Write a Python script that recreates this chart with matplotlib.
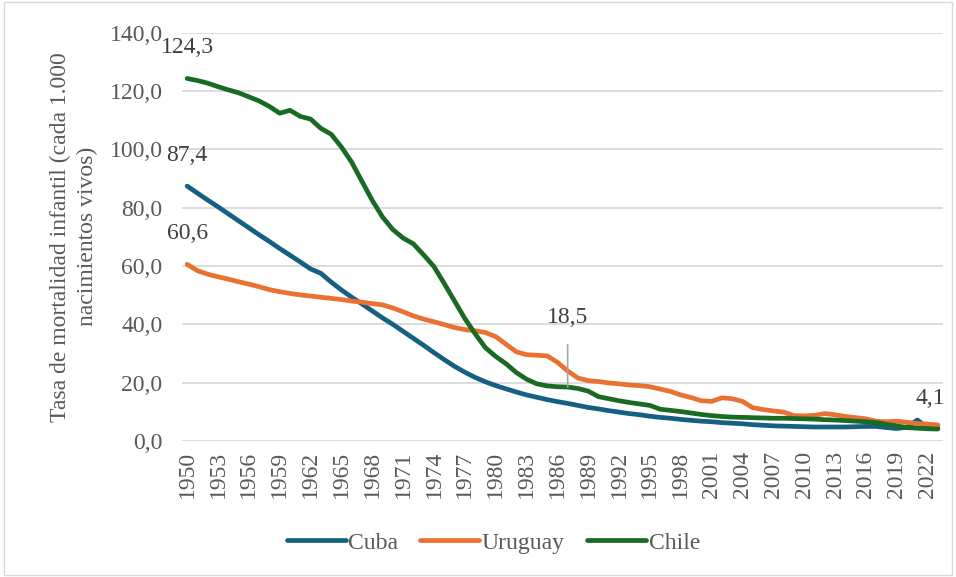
import matplotlib
matplotlib.use("Agg")
import matplotlib.pyplot as plt
from matplotlib.ticker import FuncFormatter
from matplotlib.patches import Rectangle

years = list(range(1950, 2024))

cuba = [87.4, 85.0, 82.6, 80.3, 77.9, 75.5, 73.1, 70.7, 68.4, 66.0,
        63.7, 61.4, 59.0, 57.5, 54.5, 51.8, 49.3, 47.0, 44.6, 42.2,
        40.0, 37.6, 35.2, 32.8, 30.3, 27.9, 25.6, 23.6, 21.8, 20.3,
        19.0, 17.9, 16.8, 15.8, 15.0, 14.2, 13.5, 12.9, 12.2, 11.5,
        11.0, 10.4, 9.9, 9.4, 9.0, 8.5, 8.1, 7.8, 7.4, 7.1,
        6.8, 6.6, 6.3, 6.1, 5.9, 5.6, 5.4, 5.2, 5.1, 5.0,
        4.9, 4.8, 4.8, 4.8, 4.8, 4.9, 5.0, 5.0, 4.6, 4.3,
        4.7, 7.2, 4.6, 4.6]

uruguay = [60.6, 58.4, 57.2, 56.3, 55.5, 54.6, 53.8, 52.9, 51.9, 51.2,
           50.6, 50.1, 49.7, 49.3, 48.9, 48.5, 48.0, 47.6, 47.1, 46.7,
           45.6, 44.3, 42.9, 41.8, 40.9, 39.9, 38.9, 38.2, 37.8, 37.2,
           35.8, 33.2, 30.6, 29.6, 29.4, 29.2, 27.0, 24.0, 21.6, 20.7,
           20.4, 19.9, 19.6, 19.2, 19.0, 18.6, 17.8, 17.0, 15.8, 14.9,
           13.8, 13.6, 14.8, 14.5, 13.6, 11.4, 10.8, 10.3, 9.9, 8.7,
           8.6, 8.8, 9.4, 9.0, 8.4, 8.0, 7.6, 6.8, 6.6, 6.8,
           6.4, 6.0, 5.8, 5.5]

chile = [124.3, 123.6, 122.7, 121.5, 120.4, 119.4, 118.0, 116.6, 114.7, 112.4,
         113.4, 111.3, 110.4, 107.2, 105.2, 100.8, 95.6, 89.0, 82.5, 76.8,
         72.5, 69.6, 67.6, 63.8, 59.8, 54.0, 48.0, 42.0, 36.8, 32.0,
         29.0, 26.5, 23.5, 21.2, 19.6, 18.9, 18.6, 18.5, 18.0, 17.1,
         15.2, 14.5, 13.8, 13.2, 12.7, 12.2, 10.9, 10.5, 10.1, 9.6,
         9.1, 8.7, 8.4, 8.2, 8.1, 8.0, 7.9, 7.8, 7.8, 7.7,
         7.6, 7.5, 7.3, 7.2, 7.0, 6.8, 6.6, 6.3, 5.7, 5.2,
         4.6, 4.4, 4.2, 4.1]

series_names = ["Cuba", "Uruguay", "Chile"]
series_colors = ["#156082", "#E97132", "#196B24"]

plt.rcParams['font.family'] = ['Liberation Serif', 'DejaVu Serif']
text_color = "#595959"
fs = 17

fig = plt.figure(figsize=(9.56, 5.77), dpi=100)
fig.patches.append(Rectangle((0.004, 0.004), 0.992, 0.992, transform=fig.transFigure,
                             fill=False, edgecolor="#D9D9D9", linewidth=1.0))
ax = fig.add_axes([0.1904, 0.2357, 0.796, 0.7076])

for name, vals, col in zip(series_names, [cuba, uruguay, chile], series_colors):
    ax.plot(years, vals, color=col, linewidth=3.4, label=name,
            solid_capstyle='round', solid_joinstyle='round', zorder=3)

ax.set_ylim(0, 140)
ax.set_xlim(1949.5, 2023.5)
ax.set_yticks(range(0, 141, 20))
ax.yaxis.set_major_formatter(FuncFormatter(lambda v, p: f"{v:.1f}".replace('.', ',')))
ax.set_xticks(years[::3])
ax.set_xticklabels([str(y) for y in years[::3]], rotation=90)
ax.tick_params(axis='both', length=0, labelsize=fs, labelcolor=text_color)
ax.tick_params(axis='y', pad=14)
ax.tick_params(axis='x', pad=7)
ax.grid(axis='y', color="#D9D9D9", linewidth=1.3, zorder=0)
ax.set_axisbelow(True)
for s in ax.spines.values():
    s.set_visible(False)

ax.set_ylabel("Tasa de mortalidad infantil (cada 1.000\nnacimientos vivos)",
              fontsize=fs, color=text_color, linespacing=1.35)
ax.yaxis.set_label_coords(-0.11, 0.5)

def lab(x, y, txt, dy=22):
    ax.annotate(txt, (x, y), xytext=(0, dy), textcoords='offset points',
                ha='center', va='center', fontsize=fs, color="#404040")

lab(years[0], chile[0], "124,3")
lab(years[0], cuba[0], "87,4")
lab(years[0], uruguay[0], "60,6")
lab(years[-1] - 0.7, chile[-1], "4,1")
ax.annotate("18,5", (years[37], chile[37]), xytext=(0, 50), textcoords='offset points',
            ha='center', va='center', fontsize=fs, color="#404040",
            arrowprops=dict(arrowstyle='-', color="#A6A6A6", lw=1.2, shrinkA=10, shrinkB=0))

leg = fig.legend(loc='center', bbox_to_anchor=(0.516, 0.059), ncol=3, frameon=False,
                 fontsize=fs, handlelength=2.5, handletextpad=0.1, columnspacing=0.95,
                 labelcolor=text_color)

fig.savefig("out.png", dpi=100)
